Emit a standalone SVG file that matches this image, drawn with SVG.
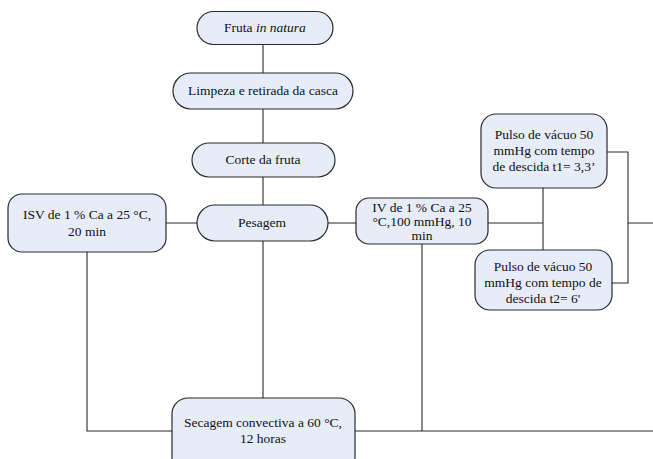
<svg xmlns="http://www.w3.org/2000/svg" width="653" height="459" viewBox="0 0 653 459">
<style>
.n{fill:#e7edf8;stroke:#2a2a2a;stroke-width:1.2}
.c{fill:none;stroke:#2a2a2a;stroke-width:1.1}
text{font-family:"Liberation Serif","Times New Roman",serif;font-size:13.5px;fill:#111;text-anchor:middle}
</style>
<rect width="653" height="459" fill="#fff"/>
<g id="connectors">
<path class="c" d="M263 44V398"/>
<path class="c" d="M166 223H197M328 223H356M488 223H543M543 188V250"/>
<path class="c" d="M607 152H628V283H612M628 223H653"/>
<path class="c" d="M87 252V431H653M422 244V431"/>
</g>
<g id="fruta"><rect class="n" x="197" y="11.5" width="136" height="33" rx="16.5"/><text x="265" y="32">Fruta <tspan font-style="italic">in natura</tspan></text></g>
<g id="limpeza"><rect class="n" x="173" y="73" width="180" height="36" rx="18"/><text x="263" y="95">Limpeza e retirada da casca</text></g>
<g id="corte"><rect class="n" x="192" y="143" width="143" height="34" rx="17"/><text x="263" y="164">Corte da fruta</text></g>
<g id="pesagem"><rect class="n" x="197" y="205" width="131" height="36" rx="18"/><text x="262" y="227">Pesagem</text></g>
<g id="isv"><rect class="n" x="8" y="194" width="158" height="58" rx="14"/><text x="87" y="219">ISV de 1 % Ca a 25 °C,</text><text x="87" y="236">20 min</text></g>
<g id="iv"><rect class="n" x="356" y="198" width="132" height="46" rx="13"/><text x="422" y="212">IV de 1 % Ca a 25</text><text x="422" y="226">°C,100 mmHg, 10</text><text x="422" y="240">min</text></g>
<g id="pulso1"><rect class="n" x="481" y="114" width="126" height="74" rx="15"/><text x="544" y="139">Pulso de vácuo 50</text><text x="544" y="155">mmHg com tempo</text><text x="544" y="171">de descida t1= 3,3’</text></g>
<g id="pulso2"><rect class="n" x="475" y="250" width="137" height="60" rx="15"/><text x="543" y="271">Pulso de vácuo 50</text><text x="543" y="287">mmHg com tempo de</text><text x="543" y="303">descida t2= 6'</text></g>
<g id="secagem"><rect class="n" x="172" y="398" width="183" height="76" rx="16"/><text x="263" y="427">Secagem convectiva a 60 °C,</text><text x="263" y="443">12 horas</text></g>
</svg>
